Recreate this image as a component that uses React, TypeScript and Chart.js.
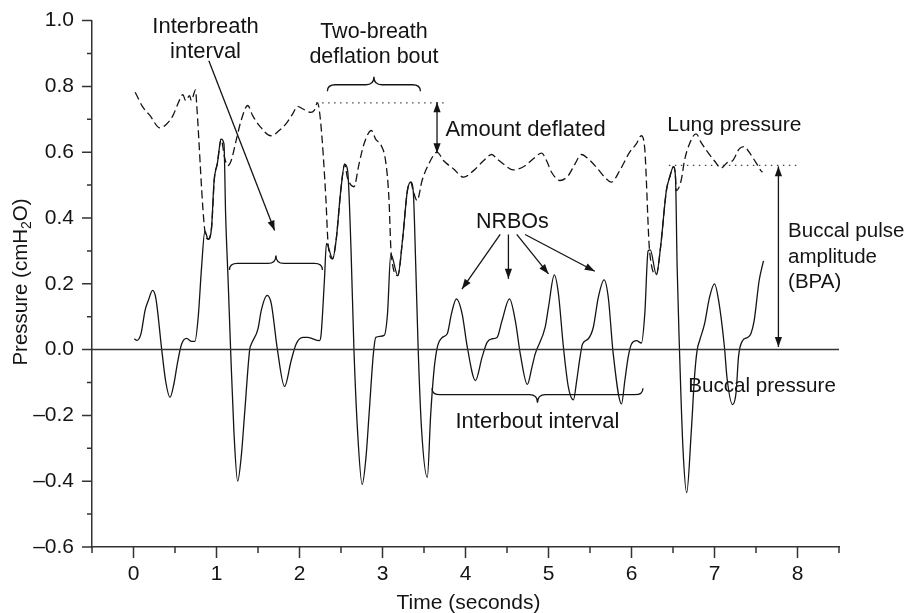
import React, { useEffect, useRef } from 'react';
import { Chart, registerables } from 'chart.js';

Chart.register(...registerables);

// ---- data (time in seconds, pressure in cmH2O) ----
const buccalPressure: [number, number][] = [
  [0.01, 0.033], [0.04, 0.028], [0.09, 0.048], [0.14, 0.12], [0.18, 0.15], [0.23, 0.18], [0.27, 0.155],
  [0.34, 0.0], [0.39, -0.1], [0.44, -0.145], [0.49, -0.1], [0.53, -0.04], [0.58, 0.017], [0.64, 0.034],
  [0.7, 0.025], [0.74, 0.025], [0.78, 0.1], [0.82, 0.25], [0.86, 0.36], [0.9, 0.335], [0.94, 0.37],
  [0.97, 0.51], [1.01, 0.565], [1.056, 0.64], [1.09, 0.625], [1.11, 0.41], [1.14, 0.21], [1.17, 0.0],
  [1.21, -0.25], [1.255, -0.4], [1.3, -0.32], [1.34, -0.19], [1.4, 0.0], [1.42, 0.017], [1.5, 0.063],
  [1.54, 0.12], [1.61, 0.165], [1.66, 0.14], [1.73, 0.007], [1.82, -0.112], [1.9, -0.033], [1.96, 0.017],
  [2.04, 0.037], [2.1, 0.037], [2.24, 0.027], [2.26, 0.045], [2.3, 0.21], [2.325, 0.323], [2.4, 0.276],
  [2.44, 0.33], [2.5, 0.49], [2.545, 0.564], [2.58, 0.544], [2.62, 0.31], [2.656, 0.0], [2.7, -0.25],
  [2.755, -0.41], [2.8, -0.33], [2.84, -0.19], [2.89, -0.013], [2.92, 0.037], [3.02, 0.043], [3.06, 0.108],
  [3.1, 0.29], [3.185, 0.225], [3.24, 0.33], [3.3, 0.483], [3.34, 0.509], [3.37, 0.483], [3.4, 0.26],
  [3.43, 0.0], [3.47, -0.24], [3.54, -0.388], [3.58, -0.2], [3.62, -0.064], [3.66, 0.007], [3.72, 0.037],
  [3.78, 0.048], [3.83, 0.108], [3.89, 0.154], [3.96, 0.108], [4.02, 0.01], [4.12, -0.094], [4.2, -0.023],
  [4.26, 0.022], [4.32, 0.033], [4.38, 0.037], [4.44, 0.088], [4.53, 0.154], [4.6, 0.088], [4.66, -0.013],
  [4.745, -0.106], [4.8, -0.054], [4.84, -0.013], [4.96, 0.068], [5.0, 0.129], [5.07, 0.227], [5.12, 0.169],
  [5.18, 0.007], [5.24, -0.115], [5.3, -0.153], [5.34, -0.094], [5.38, -0.023], [5.41, 0.017], [5.48, 0.033],
  [5.54, 0.068], [5.6, 0.159], [5.67, 0.212], [5.72, 0.159], [5.78, -0.013], [5.88, -0.165], [5.92, -0.094],
  [5.96, -0.023], [6.0, 0.017], [6.06, 0.027], [6.12, 0.02], [6.16, 0.108], [6.2, 0.3], [6.226, 0.303],
  [6.3, 0.228], [6.35, 0.311], [6.42, 0.483], [6.46, 0.524], [6.506, 0.556], [6.53, 0.524], [6.55, 0.25],
  [6.578, 0.0], [6.62, -0.3], [6.665, -0.435], [6.72, -0.25], [6.76, -0.08], [6.79, -0.003], [6.82, 0.027],
  [6.88, 0.078], [6.94, 0.159], [7.0, 0.2], [7.05, 0.149], [7.12, 0.007], [7.15, -0.084], [7.218, -0.167],
  [7.26, -0.13], [7.29, -0.02], [7.338, 0.027], [7.398, 0.037], [7.438, 0.048], [7.478, 0.088], [7.538, 0.21],
  [7.59, 0.27],
];

const lungPressure: [number, number][] = [
  [0.02, 0.782], [0.115, 0.736], [0.2, 0.711], [0.316, 0.674], [0.4, 0.686], [0.475, 0.711], [0.535, 0.747],
  [0.595, 0.775], [0.628, 0.757], [0.676, 0.772], [0.696, 0.757], [0.748, 0.789], [0.76, 0.75], [0.86, 0.36],
  [0.896, 0.336], [0.94, 0.37], [0.976, 0.524], [1.01, 0.565], [1.056, 0.64], [1.096, 0.585], [1.136, 0.559],
  [1.176, 0.574], [1.236, 0.635], [1.296, 0.696], [1.376, 0.742], [1.436, 0.711], [1.516, 0.681],
  [1.657, 0.65], [1.756, 0.666], [1.837, 0.686], [1.916, 0.716], [1.976, 0.739], [2.036, 0.732],
  [2.137, 0.721], [2.177, 0.727], [2.216, 0.75], [2.257, 0.686], [2.317, 0.463], [2.345, 0.32],
  [2.396, 0.276], [2.44, 0.33], [2.5, 0.49], [2.545, 0.564], [2.576, 0.524], [2.656, 0.495], [2.717, 0.564],
  [2.777, 0.625], [2.867, 0.666], [2.917, 0.64], [2.985, 0.62], [3.037, 0.574], [3.077, 0.463], [3.105, 0.29],
  [3.185, 0.225], [3.24, 0.33], [3.3, 0.483], [3.34, 0.509], [3.369, 0.483], [3.417, 0.453], [3.477, 0.514],
  [3.557, 0.564], [3.657, 0.6], [3.737, 0.574], [3.857, 0.549], [3.977, 0.524], [4.097, 0.544],
  [4.217, 0.574], [4.317, 0.593], [4.377, 0.58], [4.457, 0.564], [4.577, 0.546], [4.718, 0.559],
  [4.817, 0.58], [4.917, 0.597], [4.977, 0.574], [5.037, 0.539], [5.138, 0.514], [5.238, 0.529],
  [5.318, 0.564], [5.397, 0.593], [5.478, 0.58], [5.578, 0.554], [5.678, 0.524], [5.758, 0.509],
  [5.858, 0.544], [5.978, 0.6], [6.058, 0.625], [6.118, 0.65], [6.158, 0.615], [6.218, 0.3],
  [6.3, 0.228], [6.35, 0.311], [6.42, 0.483], [6.46, 0.524], [6.506, 0.556], [6.53, 0.524], [6.538, 0.483],
  [6.598, 0.514], [6.638, 0.574], [6.698, 0.625], [6.778, 0.656], [6.838, 0.63], [6.918, 0.6],
  [6.998, 0.574], [7.078, 0.552], [7.158, 0.569], [7.218, 0.574], [7.298, 0.61], [7.358, 0.617],
  [7.418, 0.6], [7.498, 0.569], [7.558, 0.544], [7.578, 0.539],
];

const zeroLine: [number, number][] = [[-0.5, 0], [8.5, 0]];
const deflationLevel: [number, number][] = [[2.2, 0.75], [3.75, 0.75]];
const bpaLevel: [number, number][] = [[6.45, 0.56], [8.0, 0.56]];

const xRange = [-0.5, 8.5];
const yRange = [-0.6, 1.0];

// annotations (data coordinates)
const arrows: { from: [number, number]; to: [number, number]; both?: boolean }[] = [
  { from: [0.908, 0.878], to: [1.7, 0.362] },
  { from: [4.418, 0.35], to: [3.957, 0.184] },
  { from: [4.517, 0.35], to: [4.517, 0.215] },
  { from: [4.617, 0.35], to: [5.0, 0.23] },
  { from: [4.718, 0.35], to: [5.558, 0.238] },
  { from: [3.657, 0.597], to: [3.657, 0.752], both: true },
  { from: [7.77, 0.008], to: [7.77, 0.557], both: true },
];

const braces: { x1: number; x2: number; y: number; tipUp: boolean }[] = [
  { x1: 1.156, x2: 2.276, y: 0.262, tipUp: true },
  { x1: 2.336, x2: 3.457, y: 0.805, tipUp: true },
  { x1: 3.597, x2: 6.138, y: -0.137, tipUp: false },
];

const labels: { text: string; x: number; y: number; align: CanvasTextAlign; size: number }[] = [
  { text: 'Interbreath', x: 0.868, y: 0.963, align: 'center', size: 22 },
  { text: 'interval', x: 0.868, y: 0.887, align: 'center', size: 22 },
  { text: 'Two-breath', x: 2.897, y: 0.947, align: 'center', size: 21.5 },
  { text: 'deflation bout', x: 2.897, y: 0.87, align: 'center', size: 21.5 },
  { text: 'Amount deflated', x: 3.758, y: 0.65, align: 'left', size: 22 },
  { text: 'Lung pressure', x: 7.239, y: 0.664, align: 'center', size: 21 },
  { text: 'NRBOs', x: 4.565, y: 0.37, align: 'center', size: 21.5 },
  { text: 'Buccal pulse', x: 7.887, y: 0.341, align: 'left', size: 20.5 },
  { text: 'amplitude', x: 7.887, y: 0.263, align: 'left', size: 20.5 },
  { text: '(BPA)', x: 7.887, y: 0.188, align: 'left', size: 20.5 },
  { text: 'Interbout interval', x: 4.866, y: -0.238, align: 'center', size: 22 },
  { text: 'Buccal pressure', x: 7.573, y: -0.13, align: 'center', size: 20.6 },
];

const FONT_FAMILY = '"Liberation Sans", Arial, sans-serif';
const INK = '#141414';
const AXIS = '#333333';

const annotationPlugin = {
  id: 'annotations',
  afterDraw(chart: any) {
    const { ctx, chartArea } = chart;
    const xs = chart.scales.x;
    const ys = chart.scales.y;
    const X = (v: number) => xs.getPixelForValue(v);
    const Y = (v: number) => ys.getPixelForValue(v);
    ctx.save();

    // tick marks
    ctx.strokeStyle = AXIS;
    ctx.lineWidth = 1.5;
    ctx.beginPath();
    for (let i = 0; i <= 18; i++) {
      const v = xRange[0] + i * 0.5;
      const isMajor = Math.abs(v - Math.round(v)) < 1e-6 && v >= 0 && v <= 8;
      const px = X(v);
      ctx.moveTo(px, chartArea.bottom);
      ctx.lineTo(px, chartArea.bottom + (isMajor ? 11 : 6));
    }
    for (let i = 0; i <= 16; i++) {
      const v = yRange[0] + i * 0.1;
      const isMajor = i % 2 === 0;
      const py = Y(v);
      ctx.moveTo(chartArea.left, py);
      ctx.lineTo(chartArea.left - (isMajor ? 10 : 5), py);
    }
    ctx.stroke();

    // arrows
    ctx.strokeStyle = INK;
    ctx.fillStyle = INK;
    ctx.lineWidth = 1.3;
    const head = (fx: number, fy: number, tx: number, ty: number) => {
      const a = Math.atan2(ty - fy, tx - fx);
      const len = 10;
      const w = 3.6;
      ctx.beginPath();
      ctx.moveTo(tx, ty);
      ctx.lineTo(tx - len * Math.cos(a) + w * Math.sin(a), ty - len * Math.sin(a) - w * Math.cos(a));
      ctx.lineTo(tx - len * Math.cos(a) - w * Math.sin(a), ty - len * Math.sin(a) + w * Math.cos(a));
      ctx.closePath();
      ctx.fill();
    };
    arrows.forEach((a) => {
      const fx = X(a.from[0]);
      const fy = Y(a.from[1]);
      const tx = X(a.to[0]);
      const ty = Y(a.to[1]);
      ctx.beginPath();
      ctx.moveTo(fx, fy);
      ctx.lineTo(tx, ty);
      ctx.stroke();
      head(fx, fy, tx, ty);
      if (a.both) head(tx, ty, fx, fy);
    });

    // braces
    ctx.lineWidth = 1.3;
    braces.forEach((b) => {
      const xa = X(b.x1);
      const xb = X(b.x2);
      const xm = (xa + xb) / 2;
      const L = Y(b.y);
      const s = b.tipUp ? 1 : -1;
      const e = 6.5;
      const t = 8;
      const r = 8;
      ctx.beginPath();
      ctx.moveTo(xa, L + s * e);
      ctx.quadraticCurveTo(xa, L, xa + r, L);
      ctx.lineTo(xm - r, L);
      ctx.quadraticCurveTo(xm, L, xm, L - s * t);
      ctx.quadraticCurveTo(xm, L, xm + r, L);
      ctx.lineTo(xb - r, L);
      ctx.quadraticCurveTo(xb, L, xb, L + s * e);
      ctx.stroke();
    });

    // text labels
    ctx.fillStyle = INK;
    ctx.textBaseline = 'alphabetic';
    labels.forEach((l) => {
      ctx.font = `${l.size}px ${FONT_FAMILY}`;
      ctx.textAlign = l.align;
      ctx.fillText(l.text, X(l.x), Y(l.y));
    });

    // axis titles
    ctx.font = `21px ${FONT_FAMILY}`;
    ctx.textAlign = 'center';
    ctx.fillText('Time (seconds)', (chartArea.left + chartArea.right) / 2 + 3, 609);

    ctx.save();
    ctx.translate(26.5, 282);
    ctx.rotate(-Math.PI / 2);
    const partA = 'Pressure (cmH';
    const partB = '2';
    const partC = 'O)';
    ctx.font = `20.5px ${FONT_FAMILY}`;
    const wA = ctx.measureText(partA).width;
    const wC = ctx.measureText(partC).width;
    ctx.font = `14px ${FONT_FAMILY}`;
    const wB = ctx.measureText(partB).width;
    const total = wA + wB + wC;
    let cx = -total / 2;
    ctx.textAlign = 'left';
    ctx.font = `20.5px ${FONT_FAMILY}`;
    ctx.fillText(partA, cx, 0);
    cx += wA;
    ctx.font = `14px ${FONT_FAMILY}`;
    ctx.fillText(partB, cx, 4);
    cx += wB;
    ctx.font = `20.5px ${FONT_FAMILY}`;
    ctx.fillText(partC, cx, 0);
    ctx.restore();

    ctx.restore();
  },
};

const fmtY = (v: number) => {
  if (Math.abs(v) < 1e-9) return '0.0';
  const s = v.toFixed(1);
  return s.replace('-', '\u2013');
};

export default function App() {
  const canvasRef = useRef<HTMLCanvasElement | null>(null);

  useEffect(() => {
    if (!canvasRef.current) return;
    const toPts = (arr: [number, number][]) => arr.map(([x, y]) => ({ x, y }));
    const chart = new Chart(canvasRef.current, {
      type: 'scatter',
      data: {
        datasets: [
          {
            label: 'Zero',
            data: toPts(zeroLine),
            showLine: true,
            borderColor: AXIS,
            borderWidth: 1.5,
            pointRadius: 0,
          },
          {
            label: 'Buccal pressure',
            data: toPts(buccalPressure),
            showLine: true,
            borderColor: INK,
            borderWidth: 1.3,
            pointRadius: 0,
            cubicInterpolationMode: 'monotone',
          },
          {
            label: 'Lung pressure',
            data: toPts(lungPressure),
            showLine: true,
            borderColor: INK,
            borderWidth: 1.3,
            borderDash: [8, 4],
            pointRadius: 0,
            cubicInterpolationMode: 'monotone',
          },
          {
            label: 'Deflation level',
            data: toPts(deflationLevel),
            showLine: true,
            borderColor: '#444',
            borderWidth: 1.4,
            borderDash: [1.5, 4.5],
            pointRadius: 0,
          },
          {
            label: 'BPA level',
            data: toPts(bpaLevel),
            showLine: true,
            borderColor: '#444',
            borderWidth: 1.4,
            borderDash: [1.5, 4.5],
            pointRadius: 0,
          },
        ],
      },
      options: {
        animation: false,
        responsive: false,
        maintainAspectRatio: false,
        layout: { padding: { top: 20, right: 72, left: 0, bottom: 0 } },
        plugins: {
          legend: { display: false },
          tooltip: { enabled: false },
          title: { display: false },
        },
        scales: {
          x: {
            type: 'linear',
            min: xRange[0],
            max: xRange[1],
            afterFit: (s: any) => {
              s.height = 66;
            },
            border: { display: true, color: AXIS, width: 1.5 },
            grid: { display: true, drawOnChartArea: false, drawTicks: true, tickLength: 11, color: 'rgba(0,0,0,0)' },
            ticks: {
              stepSize: 0.5,
              autoSkip: false,
              maxRotation: 0,
              padding: 4,
              color: INK,
              font: { family: FONT_FAMILY, size: 21 },
              callback: (v: any) => {
                const n = Number(v);
                return Math.abs(n - Math.round(n)) < 1e-6 && n >= 0 ? String(Math.round(n)) : '';
              },
            },
          },
          y: {
            type: 'linear',
            min: yRange[0],
            max: yRange[1],
            afterFit: (s: any) => {
              s.width = 92;
            },
            border: { display: true, color: AXIS, width: 1.5 },
            grid: { display: true, drawOnChartArea: false, drawTicks: true, tickLength: 10, color: 'rgba(0,0,0,0)' },
            ticks: {
              stepSize: 0.2,
              autoSkip: false,
              padding: 8,
              color: INK,
              font: { family: FONT_FAMILY, size: 21 },
              callback: (v: any) => fmtY(Number(v)),
            },
          },
        },
      },
      plugins: [annotationPlugin],
    } as any);
    return () => chart.destroy();
  }, []);

  return (
    <div style={{ position: 'absolute', left: 0, top: 0, width: 911, height: 613, background: '#fff' }}>
      <canvas ref={canvasRef} width={911} height={613} style={{ display: 'block', width: 911, height: 613 }} />
    </div>
  );
}
